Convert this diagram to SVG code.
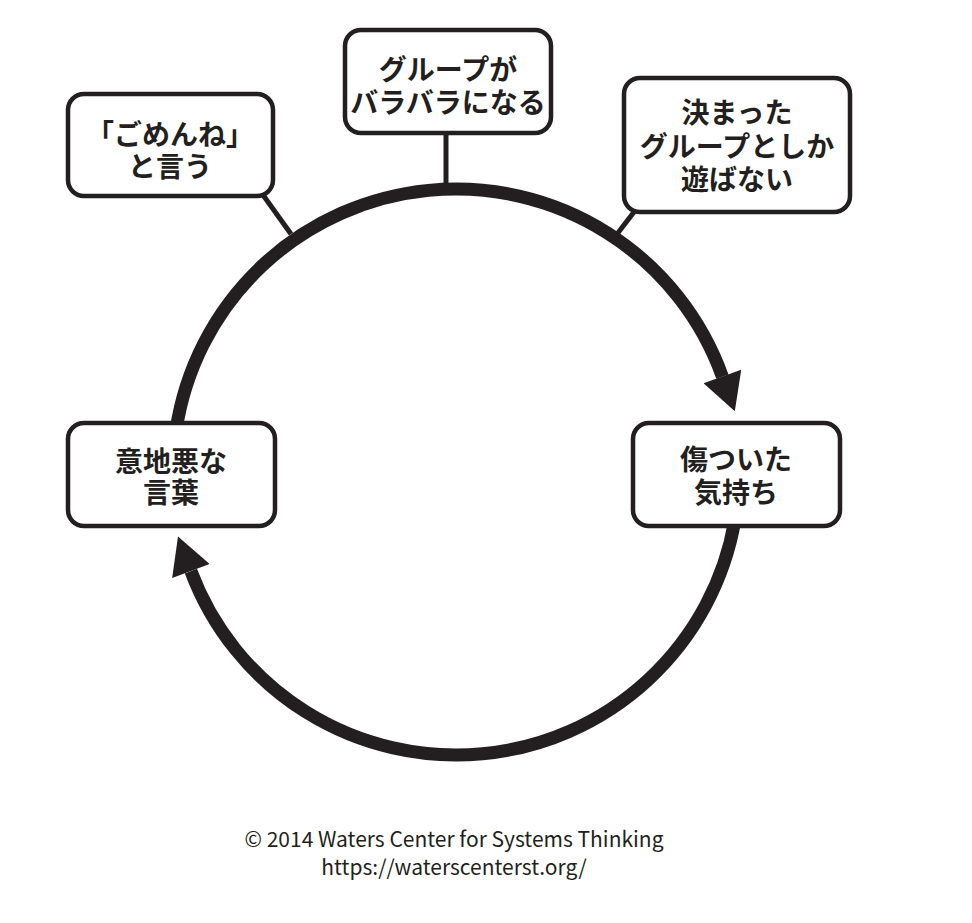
<svg xmlns="http://www.w3.org/2000/svg" width="972" height="923" viewBox="0 0 972 923">
<style>
.box{fill:#fff;stroke:#231f20;stroke-width:4.5}
.lbl{font-family:"Noto Sans CJK JP","Noto Sans",sans-serif;font-size:28px;font-weight:700;fill:#231f20;text-anchor:middle}
.loop{fill:none;stroke:#231f20;stroke-width:13}
.tie{stroke:#231f20;stroke-width:5}
.foot{font-family:"Noto Sans CJK JP","Noto Sans",sans-serif;font-size:21px;fill:#231f20;text-anchor:middle}
</style>
<defs>
<marker id="ah" markerUnits="userSpaceOnUse" markerWidth="40" markerHeight="40" refX="0" refY="19" orient="auto" viewBox="0 0 36 38">
<path d="M0,0 L35,19 L0,38 z" fill="#231f20"/>
</marker>
</defs>
<rect width="972" height="923" fill="#fff"/>
<g id="connectors">
<path class="loop" d="M176.1,430 A283,283 0 0 1 722.4,376.6" marker-end="url(#ah)"/>
<path class="loop" d="M734.9,520 A283,283 0 0 1 190.9,571.1" marker-end="url(#ah)"/>
<line class="tie" x1="446" y1="133" x2="446" y2="186"/>
<line class="tie" x1="263" y1="195" x2="291" y2="234"/>
<line class="tie" x1="634" y1="212" x2="614" y2="238"/>
</g>
<g id="n-top">
<rect class="box" x="345" y="30" width="206" height="103" rx="16"/>
<text class="lbl" x="448" y="80">グループが<tspan x="448" dy="33">バラバラになる</tspan></text>
</g>
<g id="n-sorry">
<rect class="box" x="68" y="94" width="205" height="102" rx="16"/>
<text class="lbl" x="170" y="145">「ごめんね」<tspan x="170" dy="32">と言う</tspan></text>
</g>
<g id="n-fixed">
<rect class="box" x="624" y="78" width="226" height="134" rx="16"/>
<text class="lbl" x="737" y="123">決まった<tspan x="737" dy="34">グループとしか</tspan><tspan x="737" dy="33">遊ばない</tspan></text>
</g>
<g id="n-mean">
<rect class="box" x="68" y="423" width="207" height="103" rx="16"/>
<text class="lbl" x="171" y="472">意地悪な<tspan x="171" dy="31">言葉</tspan></text>
</g>
<g id="n-hurt">
<rect class="box" x="633" y="423" width="207" height="103" rx="16"/>
<text class="lbl" x="736" y="470">傷ついた<tspan x="736" dy="33">気持ち</tspan></text>
</g>
<g id="footer">
<text class="foot" x="454" y="847">© 2014 Waters Center for Systems Thinking<tspan x="454" dy="28">https://waterscenterst.org/</tspan></text>
</g>
</svg>
